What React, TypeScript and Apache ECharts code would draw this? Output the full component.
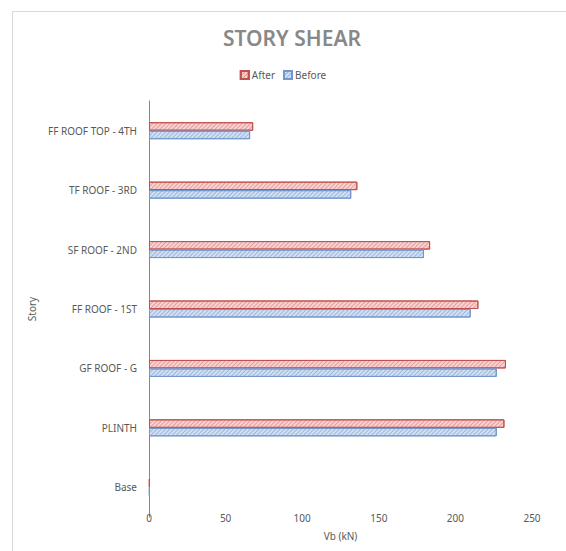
import React, { useEffect, useRef } from "react";
import * as echarts from "echarts";

// Stories from the base up to the roof top
const stories = [
  "Base",
  "PLINTH",
  "GF ROOF - G",
  "FF ROOF - 1ST",
  "SF ROOF - 2ND",
  "TF ROOF - 3RD",
  "FF ROOF TOP - 4TH",
];

// Story shear Vb (kN)
const afterShear = [0.5, 232, 233, 215, 183.5, 136, 68];
const beforeShear = [0.5, 227, 227, 210, 179.5, 132, 66];

const xTicks = { min: 0, max: 250, interval: 50 };

const FONT = "'Noto Sans', 'Open Sans', sans-serif";

// Fine diagonal hatching laid over the bar fill
const hatch = (color: string) => ({
  symbol: "rect",
  symbolSize: 1,
  color,
  dashArrayX: [1, 0],
  dashArrayY: [1, 2],
  rotation: -Math.PI / 4,
});

export default function App() {
  const ref = useRef<HTMLDivElement>(null);

  useEffect(() => {
    if (!ref.current) return;
    const chart = echarts.init(ref.current, null, { renderer: "svg" });
    chart.setOption({
      animation: false,
      backgroundColor: "#ffffff",
      title: {
        text: "STORY SHEAR",
        left: 287,
        top: 22,
        textAlign: "center",
        textStyle: {
          fontFamily: FONT,
          fontSize: 21,
          fontWeight: 600,
          color: "#888888",
        },
      },
      legend: {
        top: 65,
        left: "center",
        itemWidth: 8,
        itemHeight: 8,
        itemGap: 8,
        icon: "rect",
        data: ["After", "Before"],
        textStyle: { fontFamily: FONT, fontSize: 10, color: "#595959", padding: [0, 0, 0, -2] },
      },
      graphic: [
        {
          type: "rect",
          shape: { x: 12.5, y: 11.5, width: 560, height: 545 },
          style: { fill: "none", stroke: "#d9d9d9", lineWidth: 1 },
          silent: true,
        },
      ],
      grid: { left: 149, right: 34, top: 101, bottom: 34 },
      xAxis: {
        type: "value",
        min: xTicks.min,
        max: xTicks.max,
        interval: xTicks.interval,
        offset: -8,
        axisLine: { show: false },
        axisTick: { show: false },
        splitLine: { show: false },
        axisLabel: { fontFamily: FONT, fontSize: 10, color: "#595959", margin: 4 },
        name: "Vb (kN)",
        nameLocation: "middle",
        nameGap: 22,
        nameTextStyle: { fontFamily: FONT, fontSize: 10, color: "#595959" },
      },
      yAxis: {
        type: "category",
        data: stories,
        axisLine: { show: true, lineStyle: { color: "#868686", width: 1 } },
        axisTick: { show: false },
        axisLabel: { fontFamily: FONT, fontSize: 10, color: "#595959", margin: 12 },
        name: "Story",
        nameLocation: "middle",
        nameGap: 103,
        nameRotate: 90,
        nameTextStyle: { fontFamily: FONT, fontSize: 10, color: "#595959" },
      },
      series: [
        {
          name: "After",
          type: "bar",
          data: afterShear,
          barWidth: 8.5,
          barGap: "0%",
          itemStyle: {
            color: "#f8d3d2",
            borderColor: "#c0504d",
            borderWidth: 1,
            decal: hatch("rgba(214,120,118,0.6)"),
          },
        },
        {
          name: "Before",
          type: "bar",
          data: beforeShear,
          barWidth: 8.5,
          barGap: "0%",
          itemStyle: {
            color: "#d3e0f2",
            borderColor: "#7197cc",
            borderWidth: 1,
            decal: hatch("rgba(120,155,210,0.6)"),
          },
        },
      ],
      aria: { enabled: true, decal: { show: true } },
    });
    return () => chart.dispose();
  }, []);

  return (
    <div
      ref={ref}
      style={{ position: "absolute", left: 0, top: 0, width: 566, height: 551 }}
    />
  );
}
